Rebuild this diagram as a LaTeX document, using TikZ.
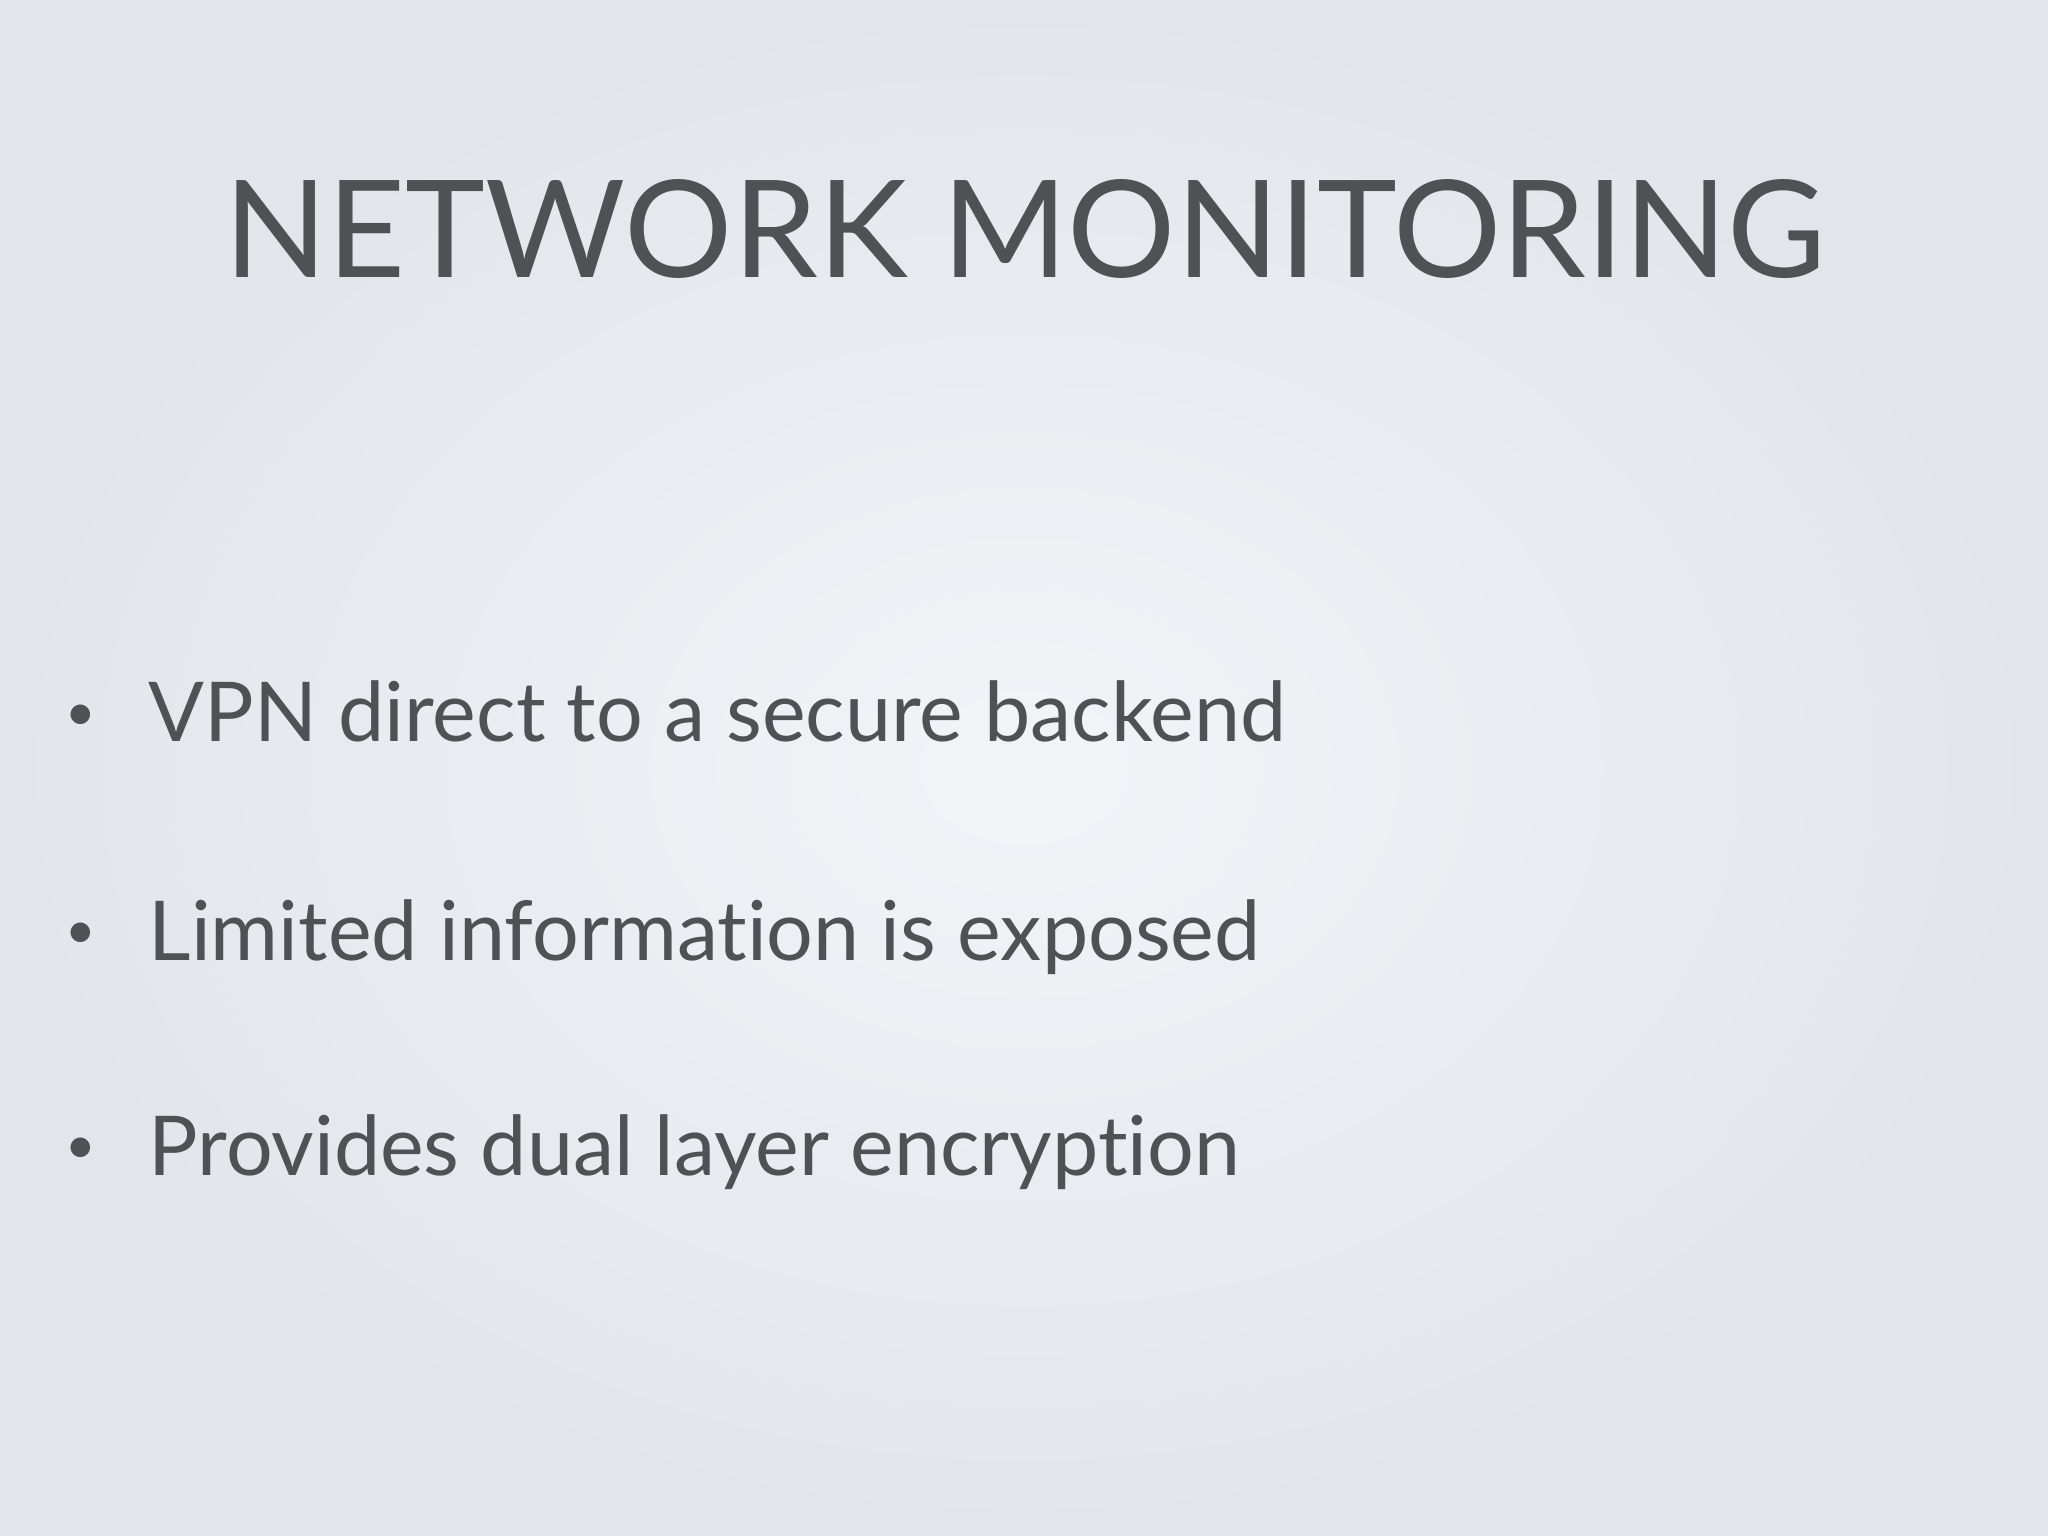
\documentclass[tikz,border=0pt]{standalone}
\usepackage{fontspec}
\setmainfont{Lato}[Ligatures={NoCommon,NoRequired,NoContextual}]
\definecolor{txt}{HTML}{505155}
\definecolor{bgA}{HTML}{E3E5EB}
\definecolor{bgB}{HTML}{F3F4F8}
\begin{document}
\begin{tikzpicture}[x=1cm,y=1cm,
  bul/.style={anchor=base west,text=txt,font=\fontsize{23.5}{28}\selectfont,inner sep=0pt},
  dot/.style={anchor=base,text=txt,font=\fontsize{15}{18}\selectfont,inner sep=0pt}]
\useasboundingbox (0,0) rectangle (20.48,-15.36);
\shade[inner color=bgB,outer color=bgA] (0,0) rectangle (20.48,-15.36);
\node[anchor=base,text=txt,font=\fontsize{38.5}{44}\selectfont,inner sep=0pt] (title) at (10.25,-2.78) {NETWORK MONITORING};
\node[bul] (b1) at (1.48,-7.42) {VPN direct to a secure backend};
\node[bul] (b2) at (1.48,-9.60) {Limited information is exposed};
\node[bul] (b3) at (1.48,-11.75) {Provides dual layer encryption};
\node[dot] (d1) at (0.81,-7.30) {•};
\node[dot] (d2) at (0.81,-9.48) {•};
\node[dot] (d3) at (0.81,-11.63) {•};
\end{tikzpicture}
\end{document}
